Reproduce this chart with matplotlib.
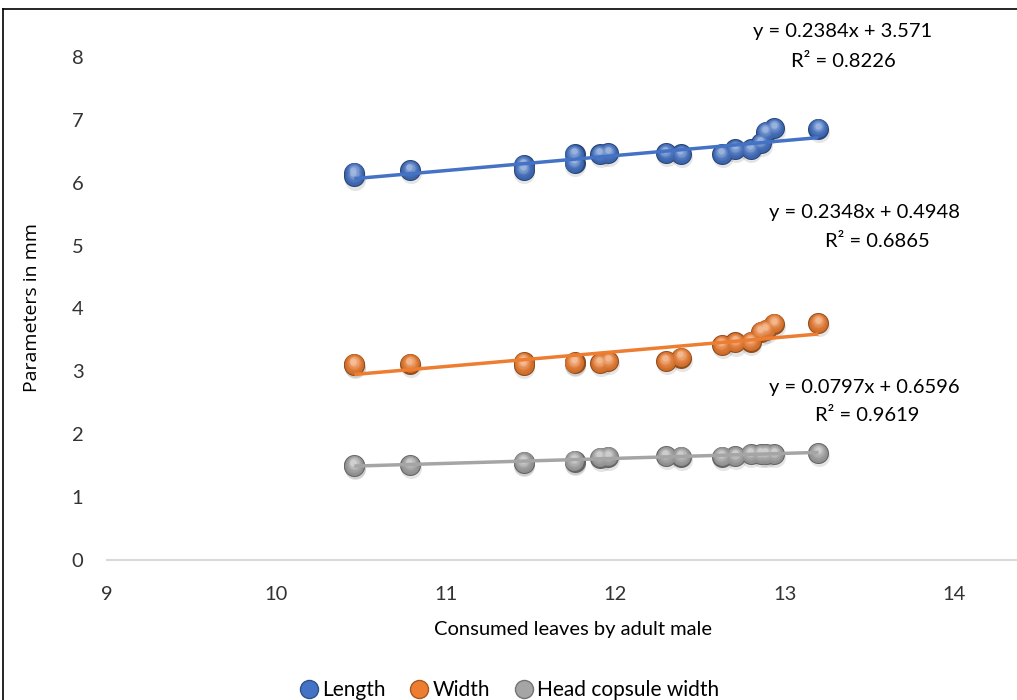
import matplotlib
matplotlib.use("Agg")
import matplotlib.pyplot as plt
import matplotlib.transforms as mtransforms
from matplotlib.lines import Line2D
import numpy as np
import matplotlib.colors as mcolors

# ---- data ----
x_consumed = [10.46, 10.46, 10.79, 11.46, 11.46, 11.76, 11.76, 11.91, 11.96,
              12.30, 12.39, 12.63, 12.71, 12.80, 12.86, 12.89, 12.94, 13.20]
length = [6.10, 6.16, 6.20, 6.28, 6.20, 6.45, 6.31, 6.45, 6.47,
          6.47, 6.45, 6.45, 6.53, 6.53, 6.63, 6.81, 6.87, 6.86]
width = [3.12, 3.10, 3.12, 3.15, 3.10, 3.13, 3.15, 3.13, 3.16,
         3.16, 3.22, 3.42, 3.46, 3.47, 3.63, 3.66, 3.76, 3.77]
head_width = [1.51, 1.49, 1.51, 1.56, 1.54, 1.58, 1.56, 1.63, 1.64,
              1.65, 1.64, 1.64, 1.65, 1.68, 1.68, 1.68, 1.68, 1.70]
series_names = ["Length", "Width", "Head copsule width"]
slopes = [0.2384, 0.2348, 0.0797]
intercepts = [3.571, 0.4948, 0.6596]
eq_labels = ["y = 0.2384x + 3.571", "y = 0.2348x + 0.4948", "y = 0.0797x + 0.6596"]
r2_labels = ["R² = 0.8226", "R² = 0.6865", "R² = 0.9619"]
x_ticks = [9, 10, 11, 12, 13, 14]
y_ticks = [0, 1, 2, 3, 4, 5, 6, 7, 8]

colors = ["#4472C4", "#ED7D31", "#A5A5A5"]
fam = ["Lato", "DejaVu Sans"]

W, H = 1017, 700
fig = plt.figure(figsize=(W / 100, H / 100), dpi=100)
left, right = 107 / W, 1.0
bottom, top = 1 - 560 / H, 1 - 10 / H
ax = fig.add_axes([left, bottom, right - left, top - bottom])
ax.set_xlim(9, 9 + (W - 107) / 169.4)
ax.set_ylim(0, 8 + 47 / 62.9)
ax.patch.set_alpha(0)

for s in ["top", "right", "left"]:
    ax.spines[s].set_visible(False)
ax.spines["bottom"].set_color("#D9D9D9")
ax.spines["bottom"].set_linewidth(1.5)

ax.set_xticks(x_ticks)
ax.set_yticks(y_ticks)
ax.tick_params(axis="both", length=0, labelcolor="#333333", labelsize=14.5)
ax.tick_params(axis="x", pad=19)
ax.tick_params(axis="y", pad=17)
for lab in ax.get_xticklabels() + ax.get_yticklabels():
    lab.set_family(fam)

xs = np.array(x_consumed)
xline = np.array([min(x_consumed), max(x_consumed)])


def sphere(ax, x, y, color, s=230, zorder=3):
    base = np.array(mcolors.to_rgb(color))
    dark = base * 0.62
    tr = mtransforms.offset_copy(ax.transData, fig=fig, x=0.5, y=-2.2, units="points")
    ax.scatter(x, y, s=s, color="#000000", alpha=0.10, lw=0, transform=tr, zorder=zorder)
    ax.scatter(x, y, s=s, color=dark, lw=0, zorder=zorder)
    n = 7
    for i in range(1, n + 1):
        f = i / n
        c = np.clip(base * (0.85 + 0.15 * f) + (1 - base) * 0.5 * f ** 3, 0, 1)
        ss = s * (1 - 0.9 * f) * 0.92
        tr = mtransforms.offset_copy(ax.transData, fig=fig, x=-0.6 * f, y=2.2 * f, units="points")
        ax.scatter(x, y, s=ss, color=c, lw=0, transform=tr, zorder=zorder, alpha=0.8 if i > 1 else 1)


for vals, col, m, b in zip([length, width, head_width], colors, slopes, intercepts):
    sphere(ax, xs, np.array(vals), col)
    ax.plot(xline, m * xline + b, color=col, lw=2.5, zorder=4, solid_capstyle="butt")


def px2data(px, py):
    return 9 + (px - 107) / 169.4, (560 - py) / 62.9


eq_pos = [((843, 31), (843, 61)), ((865, 212), (877, 241)), ((864, 387), (867, 415))]
for (p1, p2), e, r in zip(eq_pos, eq_labels, r2_labels):
    ax.text(*px2data(*p1), e, ha="center", va="center", fontsize=14.5, family=fam, color="#000000")
    ax.text(*px2data(*p2), r, ha="center", va="center", fontsize=14.5, family=fam, color="#000000")

fig.text(32 / W, 1 - 308 / H, "Parameters in mm", rotation=90, ha="center", va="center",
         fontsize=14, family=["Open Sans", "DejaVu Sans"], color="#000000")
fig.text(573 / W, 1 - 630 / H, "Consumed leaves by adult male", ha="center", va="center",
         fontsize=14.5, family=fam, color="#000000")

handles = [Line2D([], [], marker="o", ls="none", markersize=13, markerfacecolor=c,
                  markeredgecolor=np.array(mcolors.to_rgb(c)) * 0.7, markeredgewidth=1)
           for c in colors]
fig.legend(handles, series_names, loc="center", bbox_to_anchor=(510 / W, 1 - 690 / H),
           ncol=3, frameon=False, handlelength=0.8, handletextpad=0.25, columnspacing=1.2,
           prop={"family": fam, "size": 15})

fig.add_artist(Line2D([3 / W, 3 / W], [0, 1 - 9 / H], transform=fig.transFigure, color="#000000", lw=1.2))
fig.add_artist(Line2D([3 / W, 1], [1 - 9 / H, 1 - 9 / H], transform=fig.transFigure, color="#000000", lw=1.2))

fig.savefig("out.png", dpi=100)
